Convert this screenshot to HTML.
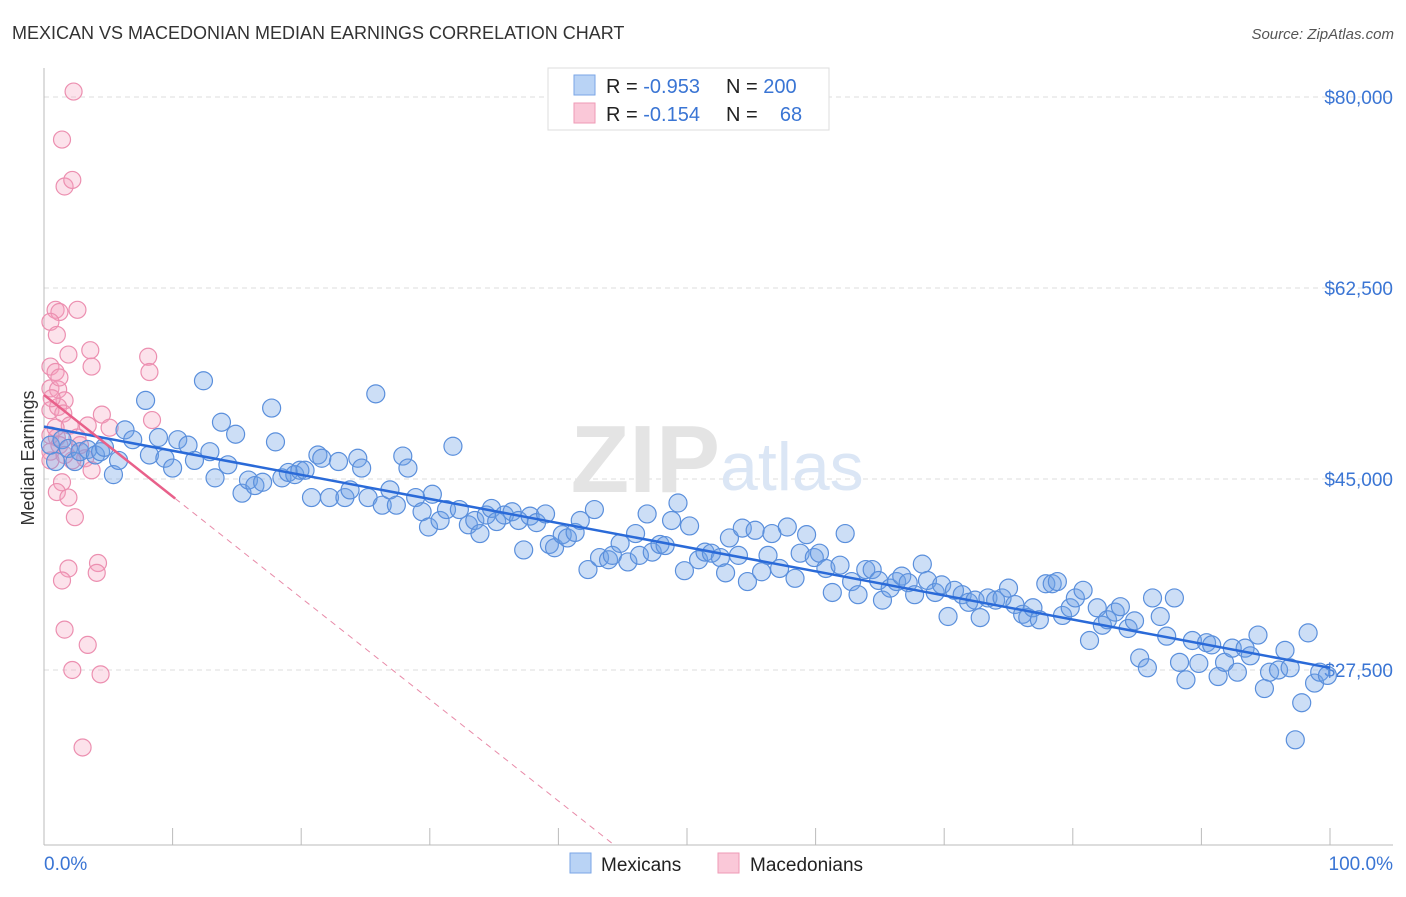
<!DOCTYPE html>
<html><head><meta charset="utf-8"><style>
body{margin:0;background:#fff;font-family:"Liberation Sans",sans-serif}
svg text{font-family:"Liberation Sans",sans-serif}
</style></head><body>
<svg id="c" width="1406" height="892"></svg>
<script>
const blueX=[0.5,0.9,1.4,1.9,2.4,2.8,3.4,4.0,4.4,4.7,5.4,5.8,6.3,6.9,7.9,8.2,8.9,9.4,10.0,10.4,11.2,11.7,12.4,12.9,13.3,13.8,14.3,14.9,15.4,15.9,16.4,17.0,17.7,18.0,18.5,19.0,19.5,19.9,20.3,20.8,21.3,21.6,22.2,22.9,23.4,23.8,24.4,24.7,25.2,25.8,26.3,26.9,27.4,27.9,28.3,28.9,29.4,29.9,30.2,30.8,31.3,31.8,32.3,33.0,33.5,33.9,34.4,34.8,35.2,35.8,36.4,36.9,37.3,37.8,38.3,39.0,39.3,39.7,40.3,40.7,41.3,41.7,42.3,42.8,43.2,43.9,44.2,44.8,45.4,46.0,46.3,46.9,47.3,47.9,48.3,48.8,49.3,49.8,50.2,50.9,51.4,51.9,52.6,53.0,53.3,54.0,54.3,54.7,55.3,55.8,56.3,56.6,57.2,57.8,58.4,58.8,59.3,59.9,60.3,60.8,61.3,61.9,62.3,62.8,63.3,63.9,64.4,64.9,65.2,65.8,66.3,66.7,67.2,67.7,68.3,68.7,69.3,69.8,70.3,70.8,71.4,71.9,72.4,72.8,73.4,74.0,74.5,75.0,75.5,76.1,76.5,76.9,77.4,77.9,78.4,78.8,79.2,79.8,80.2,80.8,81.3,81.9,82.3,82.7,83.3,83.7,84.3,84.8,85.2,85.8,86.2,86.8,87.3,87.9,88.3,88.8,89.3,89.8,90.4,90.8,91.3,91.8,92.4,92.8,93.4,93.8,94.4,94.9,95.3,96.0,96.5,96.9,97.3,97.8,98.3,98.8,99.2,99.8];
const blueY=[48.1,46.6,48.6,47.8,46.6,47.5,47.7,47.2,47.5,47.9,45.4,46.7,49.5,48.6,52.2,47.2,48.8,46.9,46.0,48.6,48.1,46.7,54.0,47.5,45.1,50.2,46.3,49.1,43.7,44.9,44.4,44.7,51.5,48.4,45.1,45.6,45.4,45.8,45.8,43.3,47.2,46.9,43.3,46.6,43.3,44.0,46.9,46.0,43.3,52.8,42.6,44.0,42.6,47.1,46.0,43.3,42.0,40.6,43.6,41.2,42.2,48.0,42.2,40.8,41.2,40.0,41.7,42.3,41.1,41.7,42.0,41.2,38.5,41.6,41.0,41.8,39.0,38.7,39.9,39.6,40.1,41.2,36.7,42.2,37.8,37.6,38.0,39.1,37.4,40.0,38.0,41.8,38.3,39.0,38.9,41.2,42.8,36.6,40.7,37.6,38.3,38.2,37.8,36.4,39.6,38.0,40.5,35.6,40.3,36.5,38.0,40.0,36.8,40.6,35.9,38.2,39.9,37.8,38.2,36.8,34.6,37.1,40.0,35.6,34.4,36.7,36.7,35.7,33.9,35.0,35.6,36.1,35.5,34.4,37.2,35.7,34.6,35.3,32.4,34.8,34.4,33.7,33.9,32.3,34.1,33.9,34.1,35.0,33.5,32.6,32.3,33.2,32.1,35.4,35.4,35.6,32.5,33.2,34.1,34.8,30.2,33.2,31.6,32.1,32.8,33.3,31.3,32.0,28.6,27.7,34.1,32.4,30.6,34.1,28.2,26.6,30.2,28.1,30.0,29.8,26.9,28.2,29.5,27.3,29.5,28.8,30.7,25.8,27.3,27.5,29.3,27.7,21.1,24.5,30.9,26.3,27.3,27.0];
const pinkX=[2.3,1.4,1.6,2.2,0.9,1.2,2.6,0.5,1.0,1.9,3.6,8.1,8.2,0.5,0.9,3.7,0.5,1.1,1.6,0.5,1.1,1.5,4.5,8.4,2.0,3.4,0.5,1.0,2.6,1.2,0.5,3.2,2.2,3.7,1.4,1.0,1.9,2.4,1.9,1.4,4.2,4.1,1.6,3.4,2.2,4.4,3.0,0.5,0.9,1.6,2.8,5.1,0.6,1.2];
const pinkY=[80.5,76.1,71.8,72.4,60.5,60.3,60.5,59.4,58.2,56.4,56.8,56.2,54.8,55.3,54.8,55.3,53.3,53.2,52.2,51.3,51.6,51.0,50.9,50.4,49.9,49.9,49.0,48.8,48.8,48.1,47.5,46.9,46.7,45.8,44.7,43.8,43.3,41.5,36.8,35.7,37.3,36.4,31.2,29.8,27.5,27.1,20.4,46.7,49.7,47.2,48.1,49.7,52.4,54.3];
const blueTrend=[49.8,27.7]; // value at 0% and 100%
const pinkTrend=[52.7,-0.93]; // intercept, slope per %
const yTicks=[80000,62500,45000,27500];
const yTickLabels=["$80,000","$62,500","$45,000","$27,500"];
const xTicks=[0,10,20,30,40,50,60,70,80,90,100];

const NS="http://www.w3.org/2000/svg";
const svg=document.getElementById('c');
const X=p=>44+p*12.86;
const Y=k=>97+(80-k)*10.914;
function el(t,a,txt){const e=document.createElementNS(NS,t);for(const k in a)e.setAttribute(k,a[k]);if(txt!==undefined)e.textContent=txt;svg.appendChild(e);return e;}

let t=el('text',{x:12,y:39,'font-size':18,fill:'#333'},'MEXICAN VS MACEDONIAN MEDIAN EARNINGS CORRELATION CHART');


t=el('text',{x:1394,y:39,'font-size':15,fill:'#555','font-style':'italic','text-anchor':'end'},'Source: ZipAtlas.com');



yTicks.forEach((v,i)=>{const y=Y(v/1000);
 const g=el('line',{x1:44,x2:1393,y1:y,y2:y,stroke:'#ddd','stroke-dasharray':'5,4'});
 
 
 const l=el('text',{x:1393,y:y+7,'font-size':19,fill:'#3a75d4','text-anchor':'end'},yTickLabels[i]);
 
 
});
let a=el('line',{x1:44,x2:44,y1:68,y2:845,stroke:'#bbb'});


a=el('line',{x1:44,x2:1393,y1:845,y2:845,stroke:'#bbb'});


xTicks.forEach(v=>{const tk=el('line',{x1:X(v),x2:X(v),y1:828,y2:845,stroke:'#bbb'});
 
 });
t=el('text',{x:44,y:870,'font-size':19,fill:'#3a75d4'},'0.0%');


t=el('text',{x:1393,y:870,'font-size':19,fill:'#3a75d4','text-anchor':'end'},'100.0%');


t=el('text',{x:34,y:458,'font-size':18,fill:'#333','text-anchor':'middle',transform:'rotate(-90 34 458)'},'Median Earnings');


t=el('text',{x:720,y:492,'font-size':96,fill:'#e4e4e4','text-anchor':'end','font-family':'Liberation Serif','font-weight':'bold'},'ZIP');


t=el('text',{x:720,y:490,'font-size':68,fill:'#dbe6f5'},'atlas');



pinkX.forEach((x,i)=>{const c=el('circle',{cx:X(x),cy:Y(pinkY[i]),r:8.5,fill:'rgba(244,160,190,0.3)',stroke:'#ec8fb0','stroke-width':1.2});
 
 });
blueX.forEach((x,i)=>{const c=el('circle',{cx:X(x),cy:Y(blueY[i]),r:9,fill:'rgba(110,160,230,0.35)',stroke:'#5a8fdc','stroke-width':1.2});
 
 });

let ln=el('line',{x1:X(0),y1:Y(blueTrend[0]),x2:X(100),y2:Y(blueTrend[1]),stroke:'#2a6ad8','stroke-width':2.5});


const yEnd=80-(845-97)/10.914;
const pEnd=(pinkTrend[0]-yEnd)/(-pinkTrend[1]);
ln=el('line',{x1:X(10.2),y1:Y(pinkTrend[0]+pinkTrend[1]*10.2),x2:X(pEnd),y2:Y(yEnd),stroke:'#e88aa8','stroke-width':1,'stroke-dasharray':'6,5'});


ln=el('line',{x1:X(0),y1:Y(pinkTrend[0]),x2:X(10.2),y2:Y(pinkTrend[0]+pinkTrend[1]*10.2),stroke:'#e8608a','stroke-width':2.5});



let r=el('rect',{x:548,y:68,width:281,height:62,fill:'#fff',stroke:'#ddd'});


r=el('rect',{x:574,y:75,width:21,height:20,fill:'#b9d3f5',stroke:'#7aa6e6'});


r=el('rect',{x:574,y:103,width:21,height:20,fill:'#fac8d8',stroke:'#ef9ab6'});


function rowText(y,r,n,name){
 const tt=el('text',{x:606,y:y,'font-size':20,fill:'#222'});
 
 
 tt.innerHTML=`R = <tspan fill="#3a75d4">${r}</tspan>`;
 const nn=el('text',{x:726,y:y,'font-size':20,fill:'#222'});
 
 
 nn.innerHTML=`N = <tspan fill="#3a75d4">${n}</tspan>`;
}
rowText(93,' -0.953','200','legend-stats-mexicans');
rowText(121,'  -0.154','&#160;&#160;&#160;68','legend-stats-macedonians');

r=el('rect',{x:570,y:853,width:21,height:20,fill:'#b9d3f5',stroke:'#7aa6e6'});


t=el('text',{x:601,y:871,'font-size':19,fill:'#222'},'Mexicans');


r=el('rect',{x:718,y:853,width:21,height:20,fill:'#fac8d8',stroke:'#ef9ab6'});


t=el('text',{x:750,y:871,'font-size':19,fill:'#222'},'Macedonians');


</script>
</body></html>
